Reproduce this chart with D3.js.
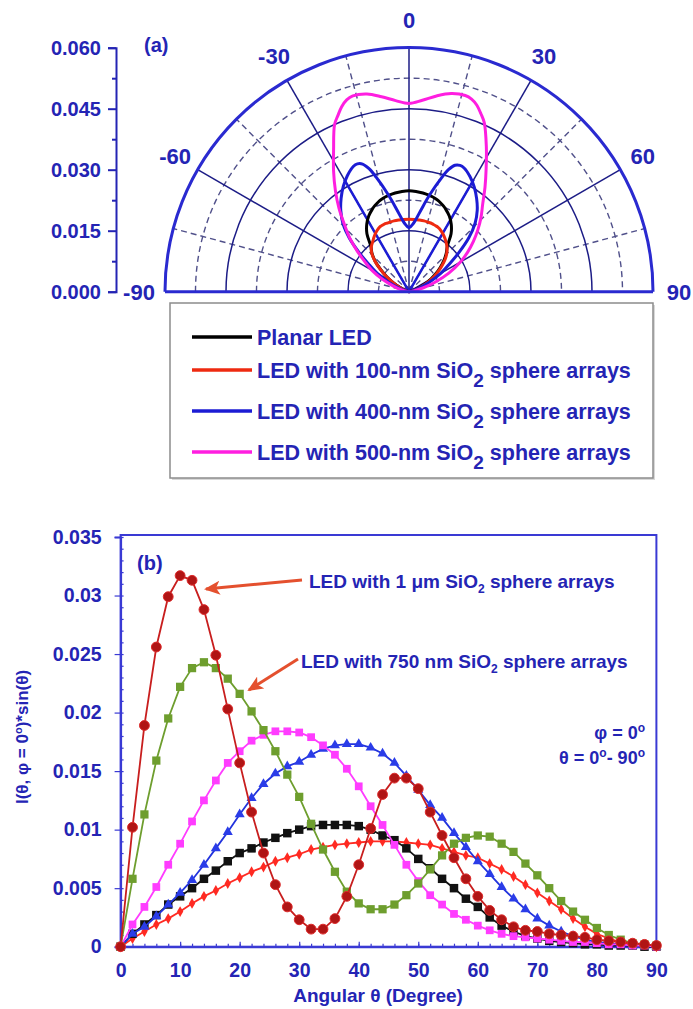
<!DOCTYPE html>
<html>
<head>
<meta charset="utf-8">
<script src="https://cdn.jsdelivr.net/npm/d3@7"></script>
<style>
body { margin: 0; background: #fff; }
svg { display: block; font-family: "Liberation Sans", Arial, sans-serif; font-weight: bold; }
</style>
</head>
<body>
<svg id="chart" width="693" height="1009"></svg>
<script>
const textBlue = "#2424b4";

// ---------- panel (a): polar intensity ----------
const polarAngles = [-90, -80, -75, -70, -65, -60, -56, -52, -48, -44, -40, -36, -32, -28, -24, -22, -20, -18, -16, -12, -8, -4,
    0, 4, 8, 12, 16, 18, 20, 22, 24, 28, 32, 36, 40, 44, 48, 52, 56, 60, 65, 70, 75, 80, 90];
const planarR = [0, 0.0002, 0.0005, 0.0012, 0.0025, 0.0045, 0.0066, 0.0088, 0.0112, 0.0131, 0.0146, 0.0176, 0.0196, 0.0211, 0.0222, 0.0227, 0.0231, 0.0235, 0.0238, 0.0242, 0.0245, 0.0247,
    0.0248, 0.0247, 0.0245, 0.0242, 0.0238, 0.0235, 0.0231, 0.0227, 0.0222, 0.0211, 0.0196, 0.0176, 0.0147, 0.0132, 0.0116, 0.0098, 0.0080, 0.0062, 0.0040, 0.0020, 0.0008, 0.0002, 0];
const sphere100R = [0, 0.0002, 0.0006, 0.0014, 0.0026, 0.0045, 0.0068, 0.0090, 0.0113, 0.0132, 0.0144, 0.0152, 0.0161, 0.0169, 0.0175, 0.0176, 0.0177, 0.0177, 0.0177, 0.0178, 0.0178, 0.0178,
    0.0178, 0.0178, 0.0178, 0.0178, 0.0177, 0.0177, 0.0176, 0.0175, 0.0174, 0.0169, 0.0162, 0.0154, 0.0145, 0.0134, 0.0120, 0.0102, 0.0084, 0.0067, 0.0045, 0.0025, 0.0011, 0.0003, 0];
const sphere400R = [0, 0.0004, 0.0010, 0.0025, 0.0055, 0.0090, 0.0117, 0.0155, 0.0198, 0.0234, 0.0261, 0.0284, 0.0305, 0.0323, 0.0337, 0.0339, 0.0334, 0.0318, 0.0293, 0.0243, 0.0200, 0.0170,
    0.0158, 0.0170, 0.0200, 0.0243, 0.0292, 0.0316, 0.0331, 0.0335, 0.0333, 0.0320, 0.0303, 0.0283, 0.0261, 0.0234, 0.0198, 0.0155, 0.0117, 0.0090, 0.0055, 0.0025, 0.0010, 0.0004, 0];
const sphere500R = [0, 0.0008, 0.0022, 0.0042, 0.0072, 0.0105, 0.0130, 0.0161, 0.0195, 0.0228, 0.0268, 0.0308, 0.0350, 0.0395, 0.0450, 0.0467, 0.0484, 0.0496, 0.0501, 0.0497, 0.0484, 0.0471,
    0.0463, 0.0472, 0.0486, 0.0498, 0.0502, 0.0498, 0.0488, 0.0472, 0.0455, 0.0405, 0.0358, 0.0318, 0.0282, 0.0255, 0.0228, 0.0201, 0.0174, 0.0146, 0.0108, 0.0068, 0.0035, 0.0012, 0];
// straight blue strokes seen along the +-30 degree spokes near the centre
const blueSpokeAngles = [-30, 30];
const blueSpokeReach = [0.0318, 0.0318];

const radialTicks = [0, 0.015, 0.030, 0.045, 0.060];
const radialMinor = [0.0075, 0.0225, 0.0375, 0.0525];
const solidRings = [0.015, 0.030, 0.045];
const angleLabels = [-90, -60, -30, 0, 30, 60, 90];
const solidSpokes = [-60, -30, 0, 30, 60];
const dashedSpokes = [-75, -45, -15, 15, 45, 75];

const legendNames = [
    ["Planar LED"],
    ["LED with 100-nm SiO", "2", " sphere arrays"],
    ["LED with 400-nm SiO", "2", " sphere arrays"],
    ["LED with 500-nm SiO", "2", " sphere arrays"]
];
const polarColors = ["#000000", "#ee2a10", "#1c1cd4", "#ff1ee0"];
const polarValues = [planarR, sphere100R, sphere400R, sphere500R];

// ---------- panel (b): I*sin(theta) ----------
const thetaDeg = [0, 2, 4, 6, 8, 10, 12, 14, 16, 18, 20, 22, 24, 26, 28, 30, 32, 34, 36, 38, 40, 42, 44, 46, 48,
    50, 52, 54, 56, 58, 60, 62, 64, 66, 68, 70, 72, 74, 76, 78, 80, 82, 84, 86, 88, 90];
const diamondRed = [0, 0.0007, 0.0013, 0.0019, 0.0024, 0.0030, 0.0037, 0.0043, 0.0048, 0.0054, 0.0059, 0.0064, 0.0068, 0.0073, 0.0076, 0.0079, 0.0083, 0.0085, 0.0087, 0.0088, 0.0089, 0.0090, 0.0090, 0.0090, 0.0089,
    0.0088, 0.0087, 0.0084, 0.0081, 0.0078, 0.0076, 0.0071, 0.0066, 0.0060, 0.0053, 0.0046, 0.0039, 0.0032, 0.0024, 0.0017, 0.0011, 0.0007, 0.0004, 0.0002, 0.0001, 0];
const planarSq = [0, 0.0011, 0.0019, 0.0027, 0.0036, 0.0043, 0.0050, 0.0058, 0.0065, 0.0073, 0.0080, 0.0084, 0.0089, 0.0093, 0.0097, 0.0100, 0.0103, 0.0104, 0.0104, 0.0104, 0.0103, 0.0100, 0.0095, 0.0091, 0.0084,
    0.0075, 0.0067, 0.0058, 0.0050, 0.0041, 0.0034, 0.0025, 0.0018, 0.0013, 0.0009, 0.0007, 0.0005, 0.0004, 0.0003, 0.0002, 0.0002, 0.0001, 0.0001, 0.0001, 0, 0];
const blueTri = [0, 0.0011, 0.0017, 0.0026, 0.0036, 0.0046, 0.0057, 0.0070, 0.0084, 0.0098, 0.0113, 0.0127, 0.0139, 0.0148, 0.0154, 0.0158, 0.0164, 0.0169, 0.0172, 0.0173, 0.0173, 0.0170, 0.0165, 0.0157, 0.0146,
    0.0134, 0.0121, 0.0110, 0.0097, 0.0085, 0.0073, 0.0062, 0.0051, 0.0041, 0.0032, 0.0024, 0.0018, 0.0013, 0.0009, 0.0006, 0.0004, 0.0003, 0.0002, 0.0001, 0.0001, 0];
const magentaSq = [0, 0.0019, 0.0034, 0.0051, 0.0070, 0.0088, 0.0107, 0.0125, 0.0142, 0.0157, 0.0167, 0.0176, 0.0181, 0.0184, 0.0184, 0.0183, 0.0179, 0.0172, 0.0164, 0.0152, 0.0137, 0.0120, 0.0104, 0.0087, 0.0070,
    0.0056, 0.0044, 0.0036, 0.0028, 0.0023, 0.0018, 0.0014, 0.0011, 0.0009, 0.0008, 0.0007, 0.0006, 0.0005, 0.0004, 0.0004, 0.0003, 0.0002, 0.0002, 0.0001, 0.0001, 0];
const green750 = [0, 0.0058, 0.0113, 0.0159, 0.0195, 0.0222, 0.0238, 0.0243, 0.0238, 0.0229, 0.0216, 0.0201, 0.0185, 0.0167, 0.0147, 0.0128, 0.0105, 0.0083, 0.0064, 0.0047, 0.0037, 0.0032, 0.0032, 0.0036, 0.0044,
    0.0054, 0.0066, 0.0078, 0.0088, 0.0093, 0.0095, 0.0094, 0.0088, 0.0081, 0.0071, 0.0061, 0.0050, 0.0039, 0.0030, 0.0023, 0.0016, 0.0010, 0.0006, 0.0003, 0.0002, 0.0001];
const red1um = [0, 0.0102, 0.0189, 0.0256, 0.0299, 0.0317, 0.0313, 0.0288, 0.0249, 0.0203, 0.0157, 0.0115, 0.0080, 0.0053, 0.0034, 0.0023, 0.0015, 0.0015, 0.0024, 0.0043, 0.0070, 0.0101, 0.0130, 0.0144, 0.0144,
    0.0135, 0.0115, 0.0095, 0.0076, 0.0058, 0.0043, 0.0031, 0.0023, 0.0017, 0.0014, 0.0013, 0.0011, 0.0010, 0.0009, 0.0008, 0.0006, 0.0005, 0.0004, 0.0003, 0.0002, 0.0001];

const yTicksB = [0, 0.005, 0.01, 0.015, 0.02, 0.025, 0.03, 0.035];
const yTickLabelsB = ["0", "0.005", "0.01", "0.015", "0.02", "0.025", "0.03", "0.035"];
const xTicksB = [0, 10, 20, 30, 40, 50, 60, 70, 80, 90];

const svg = d3.select("#chart");

// ================= panel (a) =================
const cx = 409, cy = 291.7, R = 244;
const rScale = d3.scaleLinear().domain([0, 0.06]).range([0, R]);
const gA = svg.append("g").attr("transform", `translate(${cx},${cy})`);

function ringPath(v) {
    let p = d3.path();
    p.arc(0, 0, rScale(v), -Math.PI, 0);
    return p.toString();
}
function spoke(a) {
    let rad = a * Math.PI / 180;
    return `M0,0L${R * Math.sin(rad)},${-R * Math.cos(rad)}`;
}

gA.selectAll(".dring").data(radialMinor).join("path")
    .attr("d", ringPath).attr("fill", "none")
    .attr("stroke", "#50508a").attr("stroke-width", 1.4).attr("stroke-dasharray", "6,4");
gA.selectAll(".dspoke").data(dashedSpokes).join("path")
    .attr("d", spoke).attr("fill", "none")
    .attr("stroke", "#50508a").attr("stroke-width", 1.4).attr("stroke-dasharray", "6,4");
gA.selectAll(".sring").data(solidRings).join("path")
    .attr("d", ringPath).attr("fill", "none")
    .attr("stroke", "#1c1c86").attr("stroke-width", 1.5);
gA.selectAll(".sspoke").data(solidSpokes).join("path")
    .attr("d", spoke).attr("fill", "none")
    .attr("stroke", "#1c1c86").attr("stroke-width", 1.5);

let radial = d3.lineRadial()
    .angle(d => d[0] * Math.PI / 180)
    .radius(d => rScale(d[1]))
    .curve(d3.curveCatmullRom.alpha(0.5));

// thick blue strokes along the +-30 spokes
blueSpokeAngles.forEach((a, i) => {
    gA.append("path")
        .datum([[a, 0], [a, blueSpokeReach[i]]])
        .attr("d", d3.lineRadial().angle(d => d[0] * Math.PI / 180).radius(d => rScale(d[1])))
        .attr("stroke", polarColors[2]).attr("stroke-width", 2.5);
});

polarValues.forEach((vals, i) => {
    gA.append("path")
        .datum(polarAngles.map((a, j) => [a, vals[j]]))
        .attr("d", radial)
        .attr("fill", "none")
        .attr("stroke", polarColors[i])
        .attr("stroke-width", 3)
        .attr("stroke-linejoin", "round");
});

// outer frame of polar plot
gA.append("path").attr("d", ringPath(0.06)).attr("fill", "none")
    .attr("stroke", "#2a2ad0").attr("stroke-width", 3);
gA.append("line").attr("x1", -R).attr("x2", R).attr("y1", 0).attr("y2", 0)
    .attr("stroke", "#2a2ad0").attr("stroke-width", 3);

gA.selectAll(".alabel").data(angleLabels).join("text")
    .attr("x", d => 270 * Math.sin(d * Math.PI / 180))
    .attr("y", d => -272 * Math.cos(d * Math.PI / 180))
    .attr("dy", "0.36em")
    .attr("text-anchor", "middle")
    .attr("font-size", 22)
    .attr("fill", textBlue)
    .text(d => d);

// radial value axis on the left
let yA = d3.scaleLinear().domain([0, 0.06]).range([cy, cy - R]);
let axA = svg.append("g").attr("transform", "translate(116,0)")
    .call(d3.axisLeft(yA).tickValues(radialTicks).tickFormat(d3.format(".3f")).tickSize(8).tickPadding(7));
svg.append("g").attr("transform", "translate(116,0)")
    .call(d3.axisLeft(yA).tickValues(radialMinor).tickFormat("").tickSize(4))
    .select(".domain").remove();
svg.selectAll(".tick line").attr("stroke", textBlue).attr("stroke-width", 2);
axA.select(".domain").attr("stroke", textBlue).attr("stroke-width", 2);
axA.selectAll("text").attr("font-size", 20).attr("font-family", "Liberation Sans, Arial, sans-serif")
    .attr("font-weight", "bold").attr("fill", textBlue);

svg.append("text").attr("x", 144).attr("y", 52).attr("font-size", 20)
    .attr("fill", textBlue).text("(a)");

// legend
svg.append("rect").attr("x", 172).attr("y", 305).attr("width", 483).attr("height", 175)
    .attr("fill", "#d8d8d8");
svg.append("rect").attr("x", 170).attr("y", 303).attr("width", 483).attr("height", 175)
    .attr("fill", "#fff").attr("stroke", "#8c8c8c").attr("stroke-width", 1.5);
const legendRows = [337, 370, 411, 452];
legendNames.forEach((parts, i) => {
    let yy = legendRows[i];
    svg.append("line").attr("x1", 192).attr("x2", 252).attr("y1", yy).attr("y2", yy)
        .attr("stroke", polarColors[i]).attr("stroke-width", 3.5);
    let t = svg.append("text").attr("x", 257).attr("y", yy + 8)
        .attr("font-size", 21.5).attr("fill", textBlue);
    t.append("tspan").text(parts[0]);
    if (parts.length > 1) {
        t.append("tspan").attr("dy", 9).attr("font-size", 19).text(parts[1]);
        t.append("tspan").attr("dy", -9).text(parts[2]);
    }
});

// ================= panel (b) =================
const plotLeft = 120.6, plotRight = 656.4, plotTop = 535, plotBottom = 946.7;
const x = d3.scaleLinear().domain([0, 90]).range([plotLeft, plotRight]);
const y = d3.scaleLinear().domain([0, 0.035]).range([plotBottom, 537]);

let gB = svg.append("g");

// axes
let yAxis = gB.append("g").attr("transform", `translate(${plotLeft},0)`)
    .call(d3.axisLeft(y).tickValues(yTicksB).tickFormat((d, i) => yTickLabelsB[i]).tickSize(6).tickPadding(13));
gB.append("g").attr("transform", `translate(${plotLeft},0)`)
    .call(d3.axisLeft(y).ticks(35).tickFormat("").tickSize(-3))
    .select(".domain").remove();
let xAxis = gB.append("g").attr("transform", `translate(0,${plotBottom})`)
    .call(d3.axisBottom(x).tickValues(xTicksB).tickSize(-5).tickPadding(16));
gB.append("g").attr("transform", `translate(0,${plotBottom})`)
    .call(d3.axisBottom(x).tickValues(thetaDeg).tickFormat("").tickSize(-3))
    .select(".domain").remove();
gB.selectAll(".tick line").attr("stroke", "#3a3ad4").attr("stroke-width", 1.2);
gB.selectAll(".domain").attr("stroke", "#3a3ad4").attr("stroke-width", 2);
gB.selectAll(".tick text").attr("font-size", 19.5).attr("font-family", "Liberation Sans, Arial, sans-serif")
    .attr("font-weight", "bold").attr("fill", textBlue);
gB.append("rect").attr("x", plotLeft).attr("y", plotTop).attr("width", plotRight - plotLeft).attr("height", plotBottom - plotTop)
    .attr("fill", "none").attr("stroke", "#3a3ad4").attr("stroke-width", 2);

const seriesB = [
    { values: diamondRed, color: "#ff2a22", fill: "#ff2a22", shape: d3.symbolDiamond, size: 34 },
    { values: planarSq, color: "#111111", fill: "#111111", shape: d3.symbolSquare, size: 72 },
    { values: blueTri, color: "#2233dd", fill: "#2a3ce8", shape: d3.symbolTriangle, size: 44 },
    { values: magentaSq, color: "#ff3cff", fill: "#ff3cff", shape: d3.symbolSquare, size: 60 },
    { values: green750, color: "#6e9e2e", fill: "#6e9e2e", shape: d3.symbolSquare, size: 68 },
    { values: red1um, color: "#c81e1e", fill: "#b01515", shape: d3.symbolCircle, size: 76 }
];

let lineB = d3.line().x(d => x(d[0])).y(d => y(d[1]));
seriesB.forEach(s => {
    let pts = thetaDeg.map((t, i) => [t, s.values[i]]);
    gB.append("path").datum(pts).attr("d", lineB)
        .attr("fill", "none").attr("stroke", s.color).attr("stroke-width", 1.8);
    gB.append("g").selectAll("path").data(pts).join("path")
        .attr("transform", d => `translate(${x(d[0])},${y(d[1])})`)
        .attr("d", d3.symbol().type(s.shape).size(s.size))
        .attr("fill", s.fill)
        .attr("stroke", s.shape === d3.symbolCircle ? "#dd2a2a" : "none")
        .attr("stroke-width", 1);
});

// axis titles
svg.append("text").attr("x", 378).attr("y", 1002).attr("text-anchor", "middle")
    .attr("font-size", 19).attr("fill", textBlue).text("Angular θ (Degree)");
let yt = svg.append("text").attr("transform", "translate(28,737) rotate(-90)")
    .attr("text-anchor", "middle").attr("font-size", 17).attr("fill", textBlue);
yt.append("tspan").text("I(θ, φ = 0");
yt.append("tspan").attr("dy", -6).attr("font-size", 11).text("o");
yt.append("tspan").attr("dy", 6).text(")*sin(θ)");

svg.append("text").attr("x", 137).attr("y", 570).attr("font-size", 20)
    .attr("fill", textBlue).text("(b)");

// condition text
let c1 = svg.append("text").attr("x", 645).attr("y", 739).attr("text-anchor", "end")
    .attr("font-size", 18).attr("fill", textBlue);
c1.append("tspan").text("φ = 0");
c1.append("tspan").attr("dy", -7).attr("font-size", 12).text("o");
let c2 = svg.append("text").attr("x", 645).attr("y", 764).attr("text-anchor", "end")
    .attr("font-size", 18).attr("fill", textBlue);
c2.append("tspan").text("θ = 0");
c2.append("tspan").attr("dy", -7).attr("font-size", 12).text("o");
c2.append("tspan").attr("dy", 7).text("- 90");
c2.append("tspan").attr("dy", -7).attr("font-size", 12).text("o");

// annotations with arrows
const defs = svg.append("defs");
defs.append("marker").attr("id", "head").attr("viewBox", "0 0 16 14")
    .attr("refX", 14).attr("refY", 7).attr("markerWidth", 16).attr("markerHeight", 14)
    .attr("markerUnits", "userSpaceOnUse").attr("orient", "auto")
    .append("path").attr("d", "M0,0L16,7L0,14L4,7Z").attr("fill", "#e4502e");

function annotate(tx, ty, x1, y1, x2, y2, main) {
    svg.append("line").attr("x1", x1).attr("y1", y1).attr("x2", x2).attr("y2", y2)
        .attr("stroke", "#e4502e").attr("stroke-width", 3).attr("marker-end", "url(#head)");
    let t = svg.append("text").attr("x", tx).attr("y", ty).attr("font-size", 19).attr("fill", textBlue);
    t.append("tspan").text(main);
    t.append("tspan").attr("dy", 5).attr("font-size", 12).text("2");
    t.append("tspan").attr("dy", -5).text(" sphere arrays");
}
annotate(309, 588, 302, 580, 206, 589, "LED with 1 μm SiO");
annotate(301, 668, 298, 659, 249, 690, "LED with 750 nm SiO");
</script>
</body>
</html>
